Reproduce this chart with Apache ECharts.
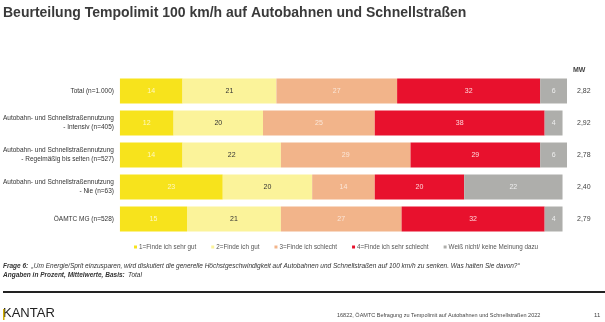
<!DOCTYPE html>
<html><head><meta charset="utf-8">
<script src="https://cdn.jsdelivr.net/npm/echarts@6/dist/echarts.min.js"></script>
<style>html,body{margin:0;padding:0;background:#fff}#c{width:605px;height:322px}</style>
</head><body><div id="c"></div>
<script>
const categories = ["Total (n=1.000)", "Autobahn- und Schnellstraßennutzung\n- Intensiv (n=405)", "Autobahn- und Schnellstraßennutzung\n- Regelmäßig bis selten (n=527)", "Autobahn- und Schnellstraßennutzung\n- Nie (n=63)", "ÖAMTC MG (n=528)"];
const seriesNames = ["1=Finde ich sehr gut", "2=Finde ich gut", "3=Finde ich schlecht", "4=Finde ich sehr schlecht", "Weiß nicht/ keine Meinung dazu"];
const sehrGut = [14, 12, 14, 23, 15];
const gut = [21, 20, 22, 20, 21];
const schlecht = [27, 25, 29, 14, 27];
const sehrSchlecht = [32, 38, 29, 20, 32];
const weissNicht = [6, 4, 6, 22, 4];
const mw = ["2,82", "2,92", "2,78", "2,40", "2,79"];

const colors = ["#f7e31c", "#fbf39a", "#f2b48a", "#e8112d", "#aeaeab"];
const labelColors = ["#fff8c0", "#333333", "#fbe6d8", "#ffd6da", "#eeeeee"];
const values = [sehrGut, gut, schlecht, sehrSchlecht, weissNicht];

const chart = echarts.init(document.getElementById('c'), null, {renderer: 'canvas'});
chart.setOption({
  animation: false,
  grid: {left: 115, right: 38, top: 75, height: 160},
  legend: {
    top: 239, left: 129, itemWidth: 3, itemHeight: 3, itemGap: 15,
    icon: 'rect',
    textStyle: {fontSize: 6.3, color: '#555', fontFamily: 'Liberation Sans, Arial', padding: [0,0,0,-3]},
    data: seriesNames
  },
  xAxis: {type: 'value', min: 0, max: 100, show: false},
  yAxis: [{
    type: 'category', inverse: true, data: categories,
    axisLine: {show: false}, axisTick: {show: false},
    axisLabel: {fontSize: 6.5, color: '#333', lineHeight: 9, margin: 6, fontFamily: 'Liberation Sans, Arial'}
  }, {
    type: 'category', inverse: true, data: mw, position: 'right',
    axisLine: {show: false}, axisTick: {show: false},
    axisLabel: {fontSize: 7, color: '#444', margin: 10, fontFamily: 'Liberation Sans, Arial'}
  }],
  series: seriesNames.map((n, i) => ({
    name: n, type: 'bar', stack: 'a', barWidth: 25,
    data: values[i],
    itemStyle: {color: colors[i]},
    label: {show: true, position: 'inside', fontSize: 7, color: labelColors[i], fontFamily: 'Liberation Sans, Arial'}
  })),
  graphic: [
    {type: 'text', left: 3, top: 6, style: {text: 'Beurteilung Tempolimit 100 km/h auf Autobahnen und Schnellstraßen', fontSize: 14, fontWeight: 'bold', fill: '#3a3a3a', fontFamily: 'Liberation Sans, Arial'}},
    {type: 'text', left: 573, top: 67, style: {text: 'MW', fontSize: 7, fontWeight: 'bold', fill: '#444', fontFamily: 'Liberation Sans, Arial'}},
    {type: 'text', left: 3, top: 260, style: {rich: {b: {fontSize: 6.5, fontWeight: 'bold', fontStyle: 'italic', fill: '#333', fontFamily: 'Liberation Sans, Arial'}, n: {fontSize: 6.5, fontStyle: 'italic', fill: '#333', fontFamily: 'Liberation Sans, Arial'}}, text: '{b|Frage 6:} {n|„Um Energie/Sprit einzusparen, wird diskutiert die generelle Höchstgeschwindigkeit auf Autobahnen und Schnellstraßen auf 100 km/h zu senken. Was halten Sie davon?“}'}},
    {type: 'text', left: 3, top: 269, style: {rich: {b: {fontSize: 6.5, fontWeight: 'bold', fontStyle: 'italic', fill: '#333', fontFamily: 'Liberation Sans, Arial'}, n: {fontSize: 6.5, fontStyle: 'italic', fill: '#333', fontFamily: 'Liberation Sans, Arial'}}, text: '{b|Angaben in Prozent, Mittelwerte, Basis:} {n|Total}'}},
    {type: 'rect', shape: {x: 3, y: 291, width: 602, height: 2}, style: {fill: '#222'}},
    {type: 'text', left: 3, top: 307, style: {text: 'KANTAR', fontSize: 13, fill: '#222', fontFamily: 'Liberation Sans, Arial'}},
    {type: 'rect', shape: {x: 3, y: 309, width: 1.5, height: 11}, style: {fill: '#d4b000'}},
    {type: 'text', left: 337, top: 312, style: {text: '16822, ÖAMTC Befragung zu Tempolimit auf Autobahnen und Schnellstraßen 2022', fontSize: 5.5, fill: '#444', fontFamily: 'Liberation Sans, Arial'}},
    {type: 'text', left: 594, top: 312, style: {text: '11', fontSize: 6, fill: '#444', fontFamily: 'Liberation Sans, Arial'}}
  ]
});
</script></body></html>
